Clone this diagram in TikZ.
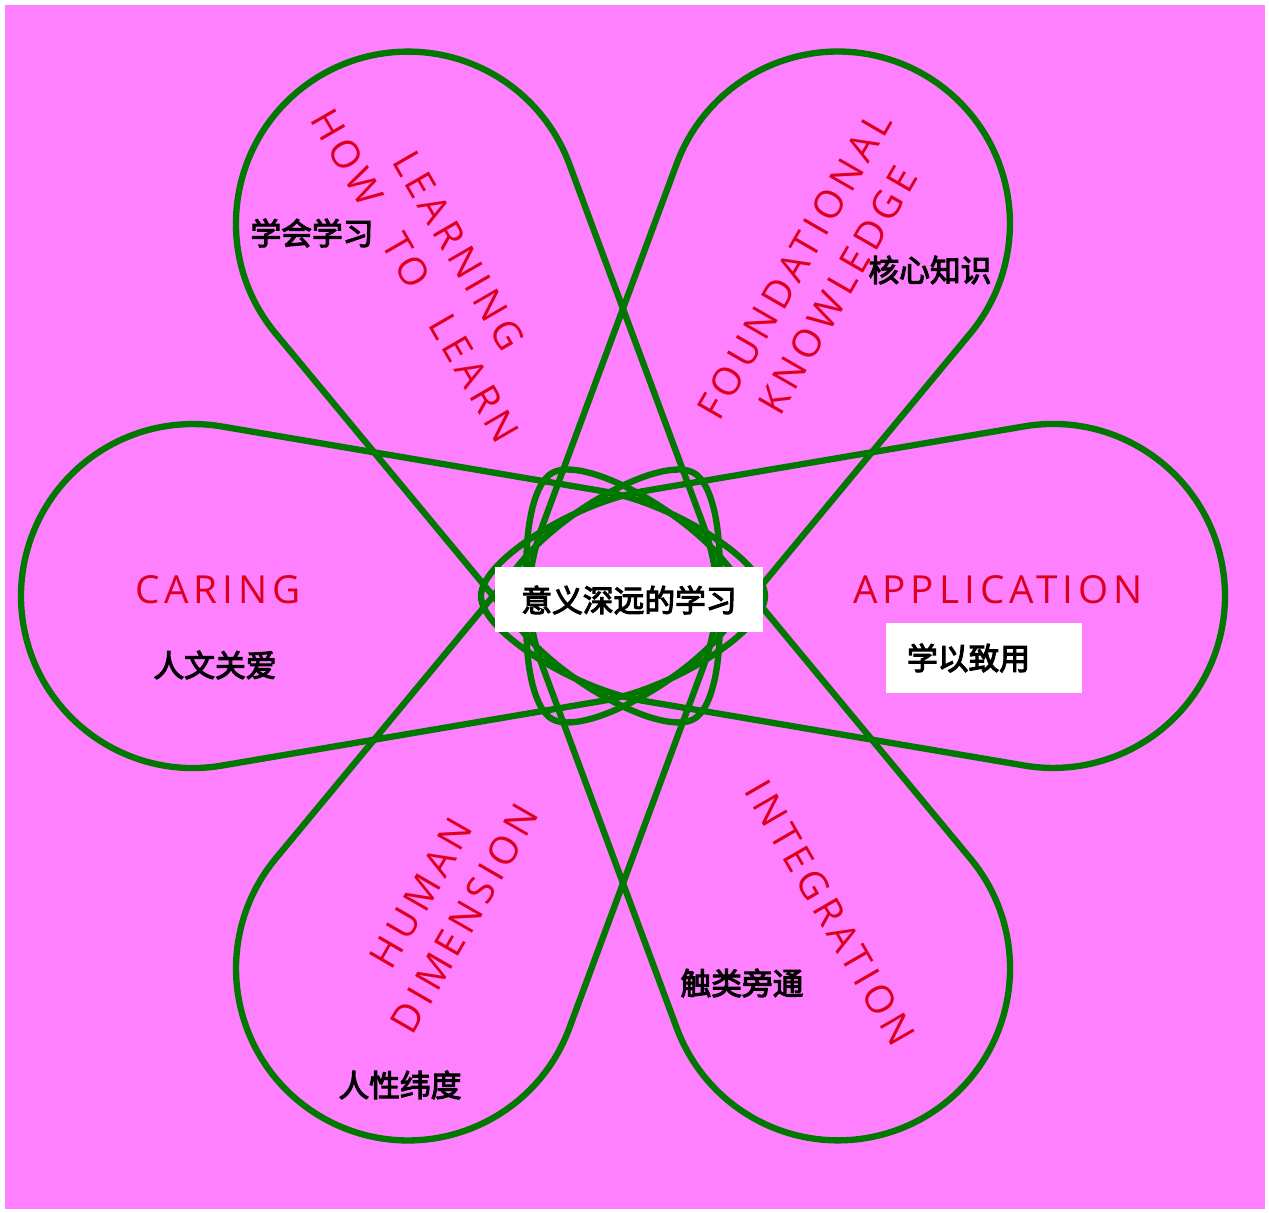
\documentclass[tikz,border=0pt]{standalone}
\usepackage{fontspec}
\usepackage{tikz}
\newfontfamily\labelfont[LetterSpace=13]{Open Sans}
\newfontfamily\cjk[FakeBold=3.5]{Noto Sans CJK SC}
\definecolor{bgpink}{RGB}{255,128,255}
\definecolor{petalgreen}{RGB}{0,120,0}
\definecolor{labelred}{RGB}{220,0,30}
\tikzset{
  petal/.style={draw=petalgreen, line width=3.6pt, line join=round},
  redlabel/.style={text=labelred, font=\labelfont\fontsize{22}{28.5}\selectfont,
    align=center, inner sep=0pt},
  cjklabel/.style={text=black, font=\cjk\fontsize{17.5}{20}\selectfont, inner sep=0pt},
  whitebox/.style={fill=white, inner sep=0pt},
}

\begin{document}
\begin{tikzpicture}[x=0.02cm, y=0.02cm]

  \useasboundingbox (-623,596) rectangle (646,-617);
  \fill[white] (-623,596) rectangle (646,-617);
  \fill[bgpink] (-618,591) rectangle (642,-613);

  % six petals
  \foreach \ang in {0,60,...,300}
    \draw[petal, rotate=\ang] (-142,0) .. controls (-142,35) and (-49,93) .. (20,104.8)
      -- (401.2,169.6) arc[start angle=99.65, end angle=-99.65, radius=172]
      -- (20,-104.8) .. controls (-49,-93) and (-142,-35) .. (-142,0) -- cycle;

  \node[redlabel] (caring) at (-405,6) {CARING};
  \node[redlabel] (application) at (375,6) {APPLICATION};
  \node[redlabel, rotate=-60] (learning) at (-186,333)
    {LEARNING\\HOW\hspace{1em}TO\hspace{1em}LEARN};
  \node[redlabel, rotate=60] (foundational) at (193,318) {FOUNDATIONAL\\KNOWLEDGE};
  \node[redlabel, rotate=60] (human) at (-180,-310) {HUMAN\\DIMENSION};
  \node[redlabel, rotate=-60] (integration) at (207,-317) {INTEGRATION};

  \node[cjklabel] (xuehui) at (-311,363) {学会学习};
  \node[cjklabel] (hexin) at (307,326) {核心知识};
  \node[cjklabel] (renwen) at (-408,-69) {人文关爱};
  \node[cjklabel] (renxing) at (-223,-489) {人性纬度};
  \node[cjklabel] (chulei) at (119,-387) {触类旁通};

  \node[whitebox, cjklabel, minimum width=5.36cm, minimum height=1.3cm] (core) at (6,-4) {意义深远的学习};
  \node[whitebox, cjklabel, text width=3.08cm, align=left, inner xsep=0.42cm,
    minimum height=1.4cm] (xueyi) at (361,-62) {学以致用};

\end{tikzpicture}
\end{document}
